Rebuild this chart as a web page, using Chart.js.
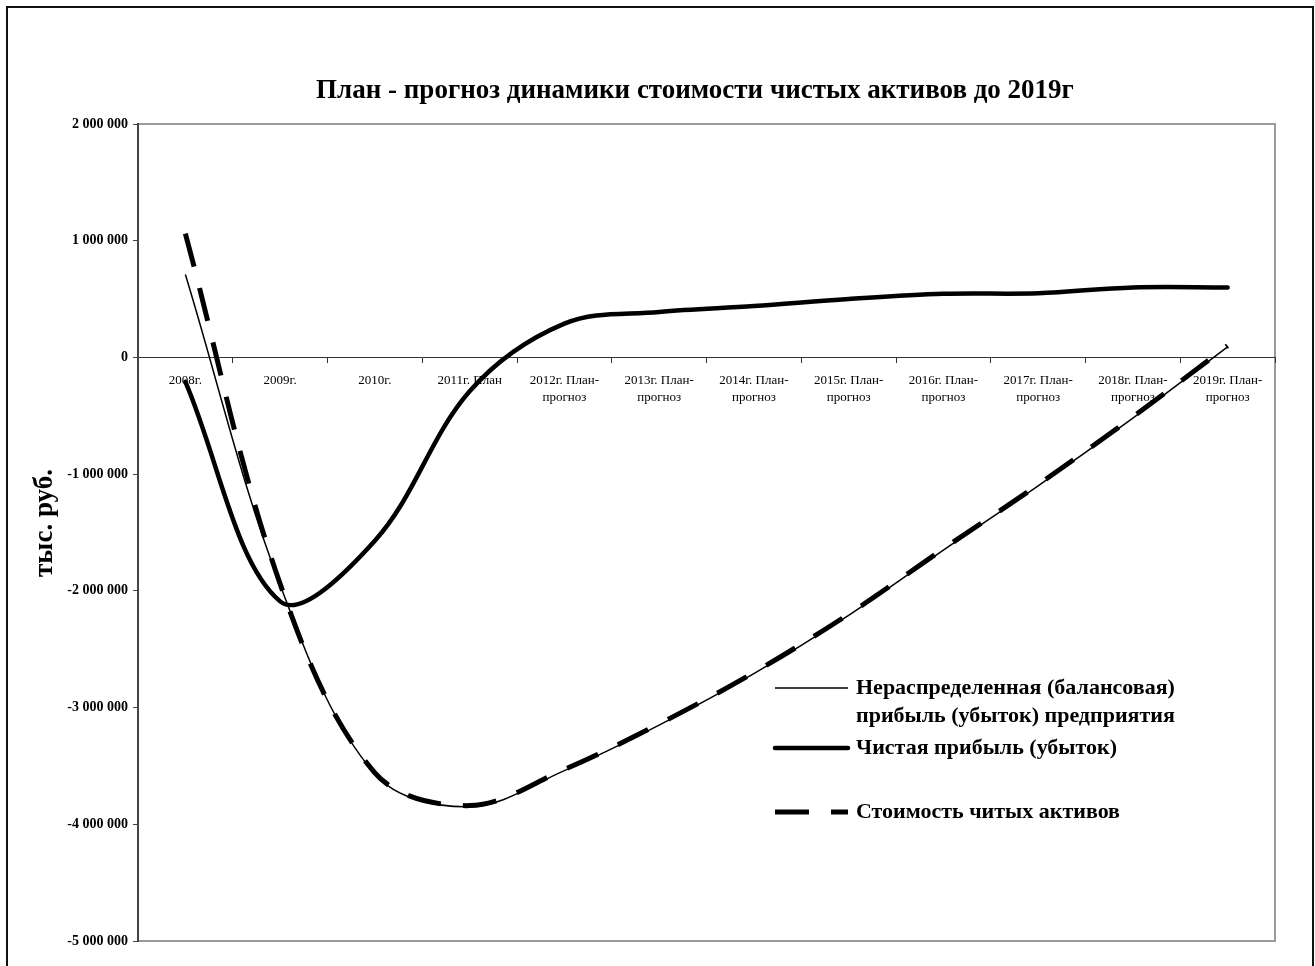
<!DOCTYPE html>
<html lang="ru">
<head>
<meta charset="utf-8">
<title>План - прогноз динамики стоимости чистых активов до 2019г</title>
<script src="https://cdn.jsdelivr.net/npm/chart.js@4.4.1/dist/chart.umd.min.js"></script>
<style>
  html, body { margin: 0; padding: 0; background: #fff; }
  #wrap { position: relative; width: 1315px; height: 966px; overflow: hidden; }
  #frame { position: absolute; left: 6px; top: 6px; width: 1308px; height: 1000px; border: 2px solid #111; box-sizing: border-box; }
  #chartNetAssets { position: absolute; left: 0; top: 0; }
</style>
</head>
<body>
<div id="wrap">
  <div id="frame"></div>
  <canvas id="chartNetAssets" width="1315" height="966"></canvas>
</div>
<script>
// Категории (годы)
const categories = [
  '2008г.', '2009г.', '2010г.', '2011г. План',
  '2012г. План-прогноз', '2013г. План-прогноз', '2014г. План-прогноз', '2015г. План-прогноз',
  '2016г. План-прогноз', '2017г. План-прогноз', '2018г. План-прогноз', '2019г. План-прогноз'
];

// Нераспределенная (балансовая) прибыль (убыток) предприятия
const retainedEarnings = [710000, -1950000, -3570000, -3850000, -3540000, -3150000, -2710000, -2210000, -1650000, -1100000, -520000, 90000];
// Чистая прибыль (убыток)
const netProfit = [-210000, -2090000, -1570000, -290000, 290000, 390000, 440000, 500000, 545000, 550000, 600000, 600000];
// Стоимость чистых активов
const netAssets = [1060000, -1940000, -3560000, -3840000, -3530000, -3140000, -2700000, -2200000, -1640000, -1090000, -510000, 100000];

// Ось Y
const yMin = -5000000;
const yMax = 2000000;
const yStep = 1000000;

const chartTitle = 'План - прогноз динамики стоимости чистых активов до 2019г';
const yTitle = 'тыс. руб.';
const legendLabels = [
  ['Нераспределенная (балансовая)', 'прибыль (убыток) предприятия'],
  ['Чистая прибыль (убыток)'],
  ['Стоимость читых активов']
];

const SERIF = '"Liberation Serif", "Times New Roman", serif';

// Формат "2 000 000"
function formatThousands(v) {
  const s = String(Math.abs(v)).replace(/\B(?=(\d{3})+(?!\d))/g, ' ');
  return (v < 0 ? '-' : '') + s;
}

// Рамка области построения (верх, право, низ) серым
const plotFrame = {
  id: 'plotFrame',
  beforeDraw(chart) {
    const { ctx, chartArea: a } = chart;
    ctx.save();
    ctx.strokeStyle = '#9a9a9a';
    ctx.lineWidth = 2;
    ctx.beginPath();
    ctx.moveTo(a.left, a.top);
    ctx.lineTo(a.right, a.top);
    ctx.lineTo(a.right, a.bottom);
    ctx.lineTo(a.left, a.bottom);
    ctx.stroke();
    ctx.restore();
  }
};

// Заголовок, подпись оси и легенда
const textLayer = {
  id: 'textLayer',
  afterDraw(chart) {
    const ctx = chart.ctx;
    ctx.save();
    ctx.fillStyle = '#000';
    ctx.textBaseline = 'middle';

    // заголовок
    ctx.font = 'bold 27px ' + SERIF;
    ctx.textAlign = 'center';
    ctx.fillText(chartTitle, 695, 91);

    // подпись оси Y
    ctx.save();
    ctx.translate(45, 523);
    ctx.rotate(-Math.PI / 2);
    ctx.font = 'bold 27px ' + SERIF;
    ctx.fillText(yTitle, 0, 0);
    ctx.restore();

    // легенда
    const rows = [688, 748, 812];
    ctx.textAlign = 'left';
    ctx.font = 'bold 22px ' + SERIF;
    chart.data.datasets.forEach((ds, i) => {
      const y = rows[i];
      ctx.save();
      ctx.strokeStyle = ds.borderColor;
      ctx.lineWidth = ds.borderWidth;
      ctx.lineCap = ds.borderCapStyle || 'butt';
      ctx.setLineDash(ds.borderDash || []);
      ctx.beginPath();
      ctx.moveTo(775, y);
      ctx.lineTo(848, y);
      ctx.stroke();
      ctx.restore();
      legendLabels[i].forEach((line, j) => {
        ctx.fillText(line, 856, y + j * 28);
      });
    });
    ctx.restore();
  }
};

const ctx = document.getElementById('chartNetAssets').getContext('2d');

const chart = new Chart(ctx, {
  type: 'line',
  data: {
    labels: categories,
    datasets: [
      {
        label: legendLabels[0].join(' '),
        data: retainedEarnings,
        borderColor: '#000',
        borderWidth: 1.5,
        fill: false
      },
      {
        label: legendLabels[1][0],
        data: netProfit,
        borderColor: '#000',
        borderWidth: 4.5,
        borderCapStyle: 'round',
        fill: false
      },
      {
        label: legendLabels[2][0],
        data: netAssets,
        borderColor: '#000',
        borderWidth: 5,
        borderDash: [34, 22],
        fill: false
      }
    ]
  },
  options: {
    responsive: false,
    animation: false,
    devicePixelRatio: 1,
    layout: { padding: { left: 0, top: 124, right: 40, bottom: 25 } },
    elements: {
      point: { radius: 0 },
      line: { tension: 0.35 }
    },
    plugins: {
      legend: { display: false },
      tooltip: { enabled: false },
      title: { display: false }
    },
    scales: {
      x: {
        position: { y: 0 },
        offset: true,
        grid: { offset: true, drawOnChartArea: false, drawTicks: true, tickLength: 5, color: '#333', lineWidth: 1 },
        border: { color: '#333', width: 1 },
        ticks: {
          autoSkip: false,
          maxRotation: 0,
          minRotation: 0,
          padding: 10,
          color: '#000',
          font: { family: SERIF, size: 13, lineHeight: 1.3 },
          callback: function(value) {
            const label = this.getLabelForValue(value);
            const k = label.indexOf('План-');
            return k >= 0 ? [label.slice(0, k + 5), label.slice(k + 5)] : label;
          }
        }
      },
      y: {
        min: yMin,
        max: yMax,
        afterFit: (scale) => { scale.width = 138; },
        grid: { drawOnChartArea: false, drawTicks: true, tickLength: 5, color: '#444' },
        border: { color: '#444', width: 2 },
        ticks: {
          stepSize: yStep,
          padding: 5,
          color: '#000',
          font: { family: SERIF, size: 14, weight: 'bold' },
          callback: (v) => formatThousands(v)
        }
      }
    }
  },
  plugins: [plotFrame, textLayer]
});
</script>
</body>
</html>
